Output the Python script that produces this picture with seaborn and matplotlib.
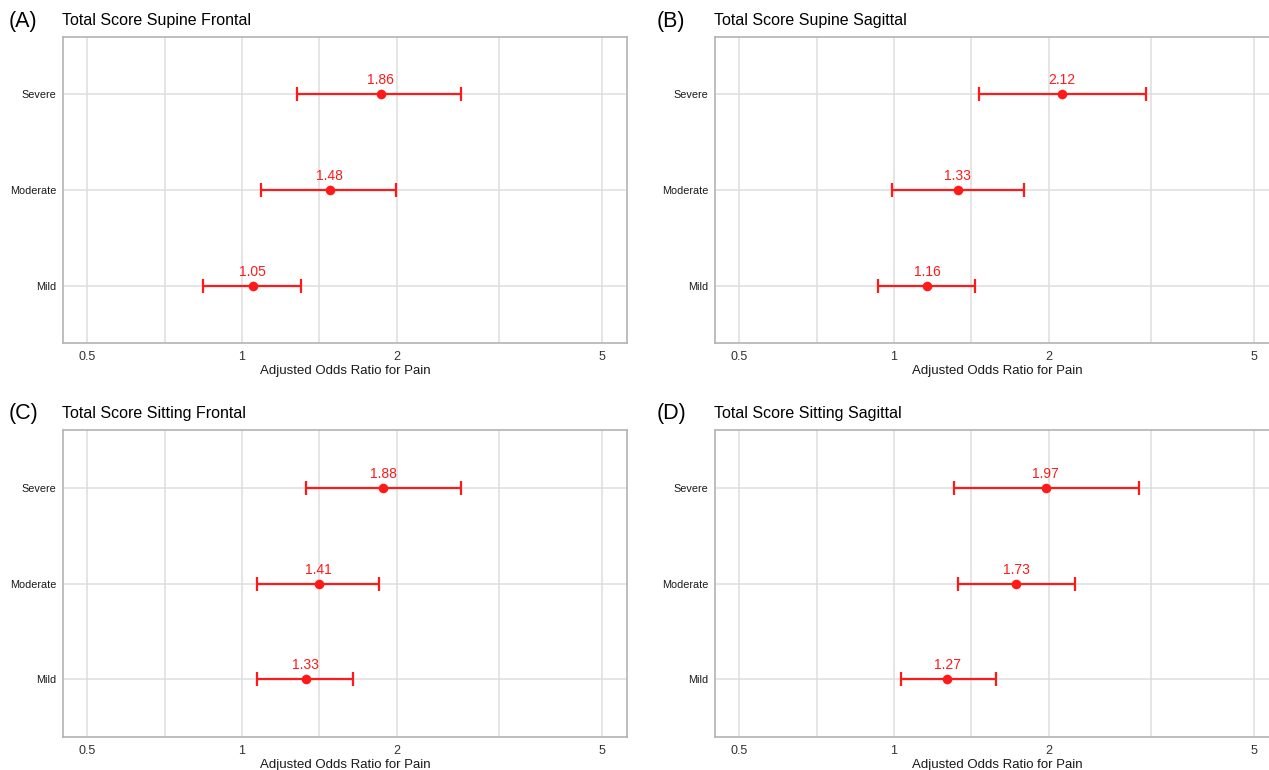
import numpy as np
import pandas as pd
import matplotlib
matplotlib.use("Agg")
import matplotlib.pyplot as plt
import seaborn as sns

categories = ["Mild", "Moderate", "Severe"]

panel_letters = ["(A)", "(B)", "(C)", "(D)"]
panel_titles = ["Total Score Supine Frontal", "Total Score Supine Sagittal",
                "Total Score Sitting Frontal", "Total Score Sitting Sagittal"]

# odds ratios, lower and upper CI (Mild, Moderate, Severe)
or_A = [1.05, 1.48, 1.86]
lo_A = [0.84, 1.09, 1.28]
hi_A = [1.30, 1.99, 2.66]

or_B = [1.16, 1.33, 2.12]
lo_B = [0.93, 0.99, 1.46]
hi_B = [1.44, 1.79, 3.09]

or_C = [1.33, 1.41, 1.88]
lo_C = [1.07, 1.07, 1.33]
hi_C = [1.64, 1.85, 2.66]

or_D = [1.27, 1.73, 1.97]
lo_D = [1.03, 1.33, 1.31]
hi_D = [1.58, 2.25, 2.99]

x_ticks = [0.5, 1, 2, 5]
x_tick_labels = ["0.5", "1", "2", "5"]
x_label = "Adjusted Odds Ratio for Pain"

sns.set_theme(style="white")
plt.rcParams['font.family'] = ['Liberation Sans', 'DejaVu Sans']

W, H = 1269, 770
fig = plt.figure(figsize=(W / 100, H / 100), dpi=100)

def rect(l, t, r, b):
    return [l / W, 1 - b / H, (r - l) / W, (b - t) / H]

rects = [rect(63, 37, 627, 343), rect(715, 37, 1279, 343),
         rect(63, 430, 627, 737), rect(715, 430, 1279, 737)]
title_y = [21, 21, 414, 414]
label_x = [9, 657, 9, 657]
title_x = [62, 714, 62, 714]

data = [(or_A, lo_A, hi_A), (or_B, lo_B, hi_B), (or_C, lo_C, hi_C), (or_D, lo_D, hi_D)]
red = "#FF1A1A"
grid_c = "#DEDEDE"
border_c = "#B3B3B3"

for i, (ors, los, his) in enumerate(data):
    ax = fig.add_axes(rects[i])
    df = pd.DataFrame({"cat": categories, "or": ors, "lo": los, "hi": his})
    ax.set_xscale("log")
    ax.set_xlim(0.449, 5.6)
    # grid
    for xv in x_ticks + [np.sqrt(0.5), np.sqrt(2), np.sqrt(10)]:
        ax.axvline(xv, color=grid_c, lw=1.1, zorder=0)
    ax.errorbar(df["or"], df["cat"],
                xerr=[df["or"] - df["lo"], df["hi"] - df["or"]],
                fmt="none", ecolor=red, elinewidth=1.6, capsize=5, capthick=1.6, zorder=3)
    sns.scatterplot(data=df, x="or", y="cat", color=red, s=48, edgecolor=red,
                    linewidth=0, ax=ax, zorder=4)
    ax.set_ylim(-0.6, 2.6)
    for yv in range(len(categories)):
        ax.axhline(yv, color=grid_c, lw=1.1, zorder=0)
    for _, row in df.iterrows():
        ax.annotate(f"{row['or']:.2f}", (row["or"], row["cat"]), xytext=(0, 5),
                    textcoords="offset points", ha="center", va="bottom",
                    color=red, fontsize=10)
    ax.set_xticks(x_ticks)
    ax.set_xticklabels(x_tick_labels)
    ax.xaxis.set_minor_locator(matplotlib.ticker.NullLocator())
    ax.tick_params(axis="y", labelsize=7.8, labelcolor="#1A1A1A", length=3,
                   width=0.8, pad=2, color=border_c)
    ax.tick_params(axis="x", labelsize=9, labelcolor="#333333", length=0, pad=6)
    ax.set_xlabel(x_label, fontsize=9.5, color="#1A1A1A", labelpad=1)
    ax.set_ylabel("")
    for s in ax.spines.values():
        s.set_color(border_c)
        s.set_linewidth(1.2)
    fig.text(label_x[i] / W, 1 - title_y[i] / H, panel_letters[i], fontsize=15.5,
             ha="left", va="center", color="black")
    fig.text(title_x[i] / W, 1 - title_y[i] / H, panel_titles[i], fontsize=11.5,
             ha="left", va="center", color="black")

fig.savefig("out.png", dpi=100)
